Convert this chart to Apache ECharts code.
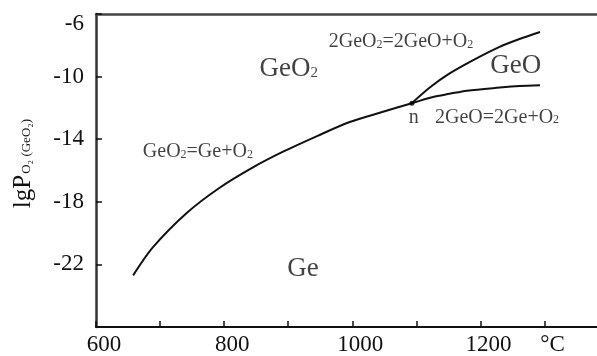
<!DOCTYPE html>
<html>
<head>
<meta charset="utf-8">
<script src="https://cdn.jsdelivr.net/npm/echarts@6/dist/echarts.min.js"></script>
<style>
  html, body { margin: 0; padding: 0; background: #fff; }
  #chart { width: 597px; height: 356px; }
</style>
</head>
<body>
<div id="chart"></div>
<script>
// GeO2 = Ge + O2 (main branch up to point n)
const mainX = [658, 689, 742, 793, 845, 892, 945, 996, 1048, 1093]
const mainY = [-22.7, -20.9, -18.7, -17.1, -15.8, -14.8, -13.8, -12.9, -12.25, -11.7]
// 2GeO2 = 2GeO + O2
const upperX = [1093, 1121, 1152, 1191, 1230, 1261, 1293]
const upperY = [-11.7, -10.7, -9.8, -8.9, -8.1, -7.6, -7.15]
// 2GeO = 2Ge + O2
const lowerX = [1093, 1126, 1152, 1179, 1230, 1261, 1293]
const lowerY = [-11.7, -11.3, -11.1, -10.9, -10.7, -10.6, -10.55]
// point n
const pointN = [1093, -11.7]

// text annotations
const noteText = ['{b|GeO}{bs|2}', '{b|GeO}', '{b|Ge}', '{m|n}',
  '{m|2GeO}{ms|2}{m|=2GeO+O}{ms|2}', '{m|2GeO=2Ge+O}{ms|2}', '{m|GeO}{ms|2}{m|=Ge+O}{ms|2}']
const noteX = [901, 1255, 923, 1096, 1076, 1226, 759]
const noteY = [-9.5, -9.3, -22.3, -12.6, -7.8, -12.6, -14.8]

const xTicks = { 600: '600', 800: '800', 1000: '1000', 1200: '1200', 1300: '°C' }

const pair = (xs, ys) => xs.map((x, i) => [x, ys[i]])
const font = 'Liberation Serif'
const lineStyle = { color: '#111', width: 2 }

const chart = echarts.init(document.getElementById('chart'))
chart.setOption({
  animation: false,
  backgroundColor: '#fff',
  grid: { left: 96, right: 0, top: 14, bottom: 28 },
  xAxis: [
    {
      type: 'value', min: 600, max: 1382, interval: 100,
      axisLine: { show: true, lineStyle: { color: '#111', width: 2 } },
      axisTick: { show: true, inside: true, length: 6, lineStyle: { color: '#111', width: 1.5 } },
      splitLine: { show: false },
      axisLabel: {
        showMaxLabel: false,
        margin: 6, padding: [0, 0, 0, 16],
        color: '#111', fontFamily: font, fontSize: 23,
        formatter: (v) => xTicks[v] || ''
      }
    },
    {
      type: 'value', position: 'top', min: 600, max: 1382,
      axisLine: { show: true, lineStyle: { color: '#444', width: 2.5 } },
      axisTick: { show: false }, axisLabel: { show: false }, splitLine: { show: false }
    }
  ],
  yAxis: {
    type: 'value', min: -26, max: -6, interval: 4,
    axisLine: { show: true, lineStyle: { color: '#333', width: 2.5 } },
    axisTick: { show: true, inside: true, length: 6, lineStyle: { color: '#111', width: 1.5 } },
    splitLine: { show: false },
    axisLabel: {
      margin: 12, color: '#111', fontFamily: font, fontSize: 23,
      formatter: (v) => (v === -26 ? '' : v === -6 ? '{t|-6}' : String(v)),
      rich: { t: { fontFamily: font, fontSize: 23, color: '#111', padding: [20, 0, 0, 0] } }
    },
    name: '{a|lgP}{s|O₂ (GeO₂)}',
    nameLocation: 'middle', nameGap: 60, nameRotate: 90,
    nameTextStyle: {
      padding: [0, 0, 0, 14],
      rich: {
        a: { fontFamily: font, fontSize: 25, color: '#111' },
        s: { fontFamily: font, fontSize: 13, color: '#111', padding: [0, 0, -6, 1] }
      }
    }
  },
  series: [
    { type: 'line', data: pair(mainX, mainY), smooth: 0.3, showSymbol: false, lineStyle },
    { type: 'line', data: pair(upperX, upperY), smooth: 0.3, showSymbol: false, lineStyle },
    { type: 'line', data: pair(lowerX, lowerY), smooth: 0.3, showSymbol: false, lineStyle },
    {
      type: 'scatter', data: [pointN], symbolSize: 5,
      itemStyle: { color: '#000' }, z: 5
    },
    {
      type: 'scatter', symbolSize: 0, silent: true,
      data: noteText.map((t, i) => ({ name: t, value: [noteX[i], noteY[i]] })),
      label: {
        show: true, position: 'inside', formatter: (p) => p.name,
        rich: {
          b: { fontFamily: font, fontSize: 27, color: '#111' },
          bs: { fontFamily: font, fontSize: 15, color: '#111', padding: [0, 0, -8, 0] },
          m: { fontFamily: font, fontSize: 20, color: '#111' },
          ms: { fontFamily: font, fontSize: 12, color: '#111', padding: [0, 0, -6, 0] }
        }
      }
    }
  ]
})
</script>
</body>
</html>
